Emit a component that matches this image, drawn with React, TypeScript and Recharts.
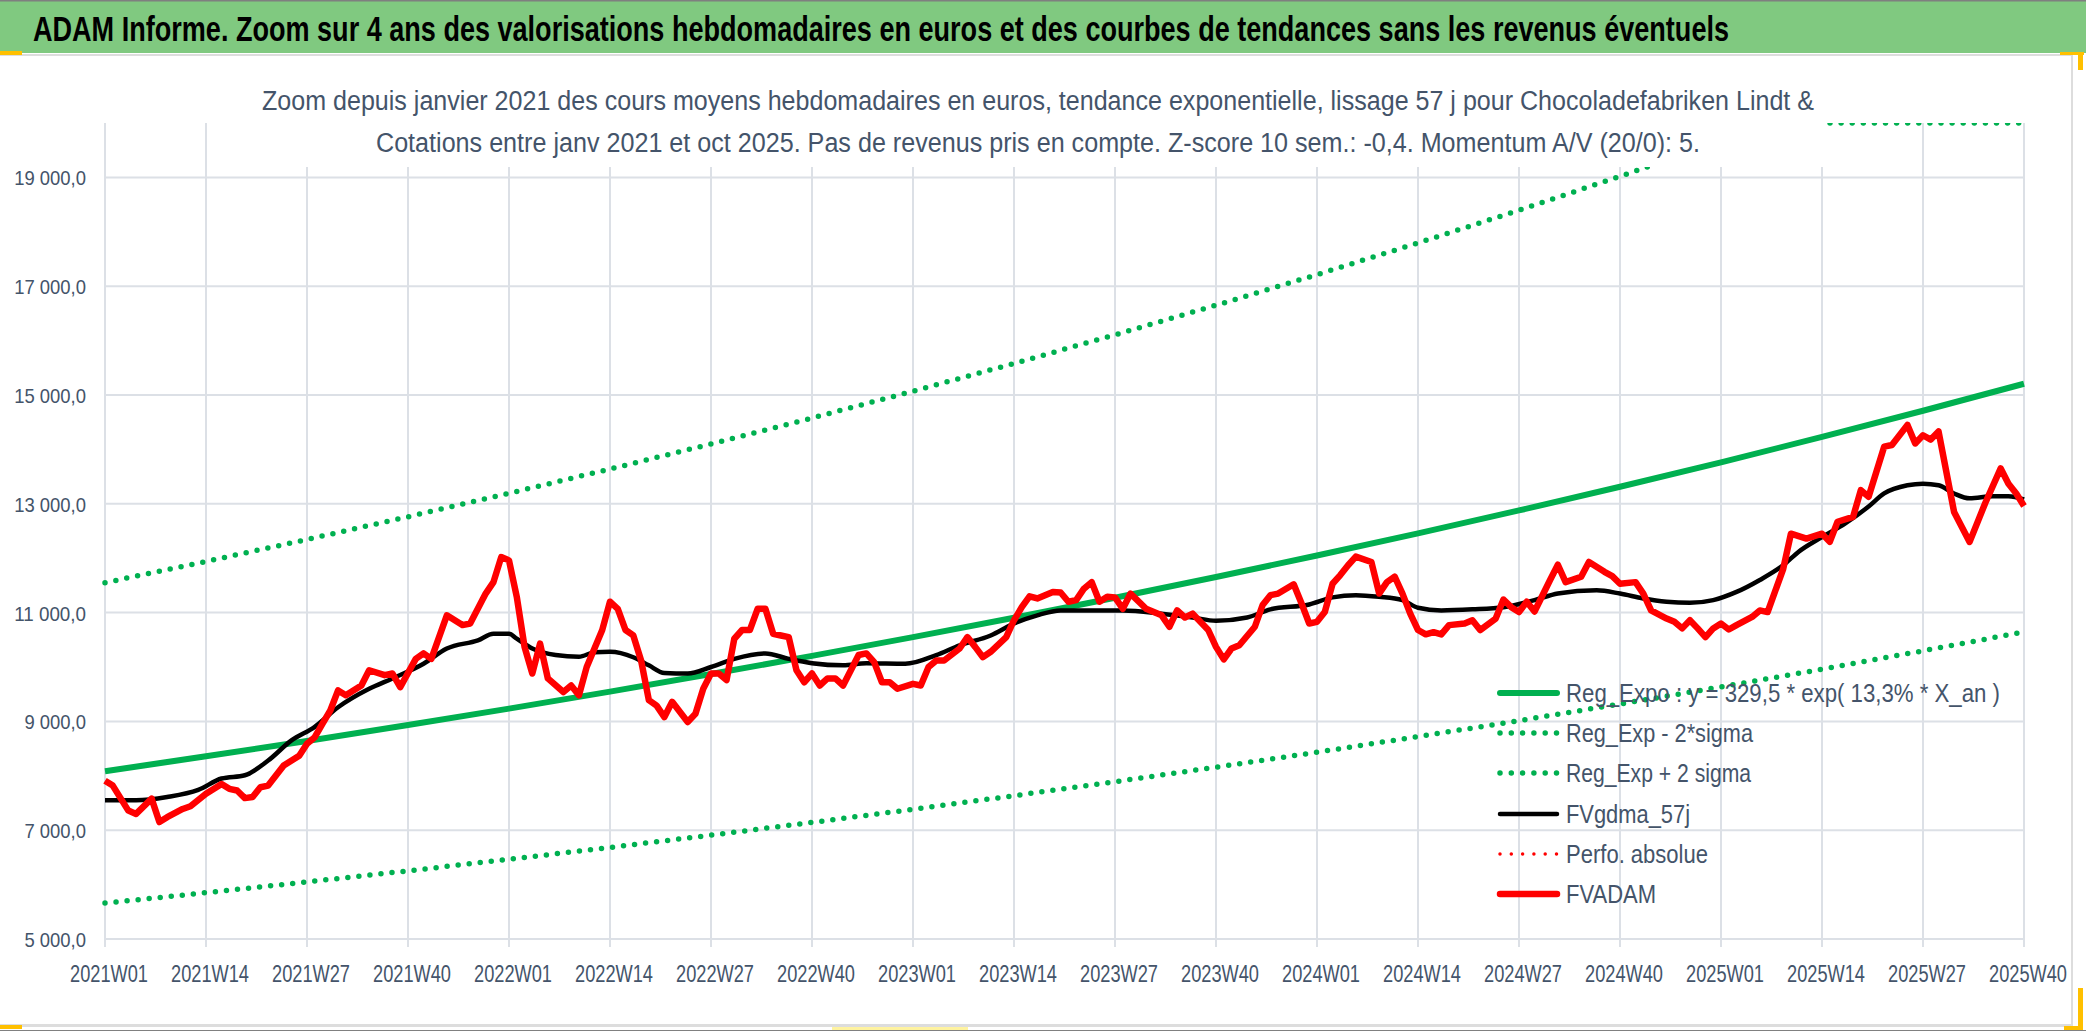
import React from 'react';
import { LineChart, Line, XAxis, YAxis, CartesianGrid } from 'recharts';

const WIDTH = 2086;
const HEIGHT = 1031;
const FONT = '"Liberation Sans Narrow", "Liberation Sans", Arial, sans-serif';
const TEXT = '#44546A';
const GREEN = '#00B050';
const RED = '#FF0000';
const GRID = '#DCE0E6';

// week labels, one every 13 weeks
const WEEK_LABELS = [
  '2021W01', '2021W14', '2021W27', '2021W40',
  '2022W01', '2022W14', '2022W27', '2022W40',
  '2023W01', '2023W14', '2023W27', '2023W40',
  '2024W01', '2024W14', '2024W27', '2024W40',
  '2025W01', '2025W14', '2025W27', '2025W40',
];
const STEP = 13;
const LAST_WEEK = 247;
const TICK_WEEKS = WEEK_LABELS.map((_, i) => i * STEP);

const Y_MIN = 5000;
const Y_MAX = 20000;
const Y_TICKS = [5000, 7000, 9000, 11000, 13000, 15000, 17000, 19000];

// trend curves, read at each labelled week
const REG_EXPO = [
  8085, 8358, 8641, 8933, 9235, 9547, 9870, 10204, 10549, 10905,
  11274, 11655, 12049, 12457, 12878, 13313, 13763, 14229, 14710, 15207,
];
const REG_MINUS = [
  5660, 5851, 6049, 6253, 6465, 6683, 6909, 7143, 7384, 7634,
  7892, 8159, 8434, 8720, 9014, 9319, 9634, 9960, 10297, 10645,
];
const REG_PLUS = [
  11550, 11940, 12344, 12761, 13193, 13639, 14100, 14577, 15070, 15579,
  16106, 16650, 17213, 17795, 18397, 19019, 19662, 20326, 21014, 21724,
];

// [week index, value]
const FVGDMA: [number, number][] = [
  [0, 7550], [4, 7550], [8, 7610], [12, 7740], [15, 7950], [18, 8010], [21, 8280], [24, 8650],
  [27, 8900], [30, 9260], [34, 9600], [37, 9790], [41, 10060], [44, 10340], [48, 10490], [50, 10610],
  [52, 10610], [53, 10520], [55, 10340], [58, 10220], [61, 10190], [63, 10270], [65, 10280], [68, 10180],
  [70, 10030], [72, 9890], [75, 9880], [78, 10000], [81, 10150], [85, 10250], [88, 10150], [91, 10070],
  [95, 10030], [98, 10070], [103, 10060], [107, 10220], [110, 10400], [114, 10580], [117, 10800], [120, 10950],
  [123, 11040], [126, 11040], [131, 11040], [136, 10980], [140, 10910], [143, 10850], [147, 10910], [150, 11060],
  [155, 11150], [158, 11280], [161, 11320], [164, 11290], [167, 11230], [169, 11090], [172, 11040], [176, 11060],
  [180, 11100], [184, 11230], [187, 11350], [192, 11410], [195, 11350], [198, 11260], [201, 11200], [204, 11180],
  [207, 11230], [210, 11380], [213, 11600], [216, 11870], [218, 12120], [221, 12390], [224, 12640], [227, 12950],
  [229, 13190], [232, 13340], [234, 13370], [236, 13340], [238, 13190], [240, 13100], [243, 13140], [245, 13140],
  [247, 13080],
];

const FVADAM: [number, number][] = [
  [0, 7910], [1, 7820], [3, 7360], [4, 7300], [6, 7580], [7, 7150], [8, 7240], [10, 7390],
  [11, 7440], [13, 7670], [15, 7850], [16, 7760], [17, 7730], [18, 7590], [19, 7610], [20, 7790],
  [21, 7820], [23, 8190], [25, 8370], [26, 8590], [27, 8710], [28, 8960], [29, 9200], [30, 9570],
  [31, 9480], [33, 9660], [34, 9940], [36, 9850], [37, 9880], [38, 9630], [40, 10150], [41, 10250],
  [42, 10150], [44, 10950], [46, 10770], [47, 10800], [49, 11350], [50, 11560], [51, 12020], [52, 11960],
  [53, 11290], [54, 10370], [55, 9880], [56, 10430], [57, 9790], [59, 9540], [60, 9660], [61, 9480],
  [62, 10000], [64, 10680], [65, 11200], [66, 11070], [67, 10680], [68, 10580], [69, 10120], [70, 9390],
  [71, 9290], [72, 9080], [73, 9360], [75, 8990], [76, 9140], [77, 9600], [78, 9880], [79, 9880],
  [80, 9760], [81, 10520], [82, 10680], [83, 10680], [84, 11070], [85, 11070], [86, 10610], [87, 10580],
  [88, 10550], [89, 9940], [90, 9720], [91, 9880], [92, 9660], [93, 9790], [94, 9790], [95, 9660],
  [97, 10220], [98, 10250], [99, 10090], [100, 9720], [101, 9720], [102, 9600], [104, 9690], [105, 9660],
  [106, 10000], [107, 10120], [108, 10120], [110, 10340], [111, 10550], [112, 10370], [113, 10180], [114, 10280],
  [116, 10550], [117, 10860], [118, 11100], [119, 11300], [120, 11260], [122, 11380], [123, 11370], [124, 11200],
  [125, 11230], [126, 11440], [127, 11560], [128, 11200], [129, 11290], [130, 11280], [131, 11070], [132, 11350],
  [134, 11070], [136, 10950], [137, 10740], [138, 11040], [139, 10910], [140, 10980], [142, 10680], [143, 10370],
  [144, 10140], [145, 10340], [146, 10400], [148, 10740], [149, 11140], [150, 11320], [151, 11350], [153, 11520],
  [154, 11170], [155, 10800], [156, 10830], [157, 11010], [158, 11530], [159, 11690], [160, 11870], [161, 12030],
  [163, 11930], [164, 11350], [165, 11560], [166, 11660], [167, 11350], [168, 10980], [169, 10680], [170, 10600],
  [171, 10640], [172, 10600], [173, 10770], [175, 10800], [176, 10860], [177, 10680], [179, 10890], [180, 11240],
  [181, 11100], [182, 11010], [183, 11200], [184, 11020], [186, 11600], [187, 11880], [188, 11560], [190, 11660],
  [191, 11930], [193, 11750], [194, 11670], [195, 11530], [197, 11560], [198, 11350], [199, 11040], [201, 10890],
  [202, 10830], [203, 10710], [204, 10860], [205, 10710], [206, 10550], [207, 10710], [208, 10800], [209, 10690],
  [210, 10770], [212, 10920], [213, 11040], [214, 11010], [216, 11800], [217, 12450], [219, 12360], [221, 12450],
  [222, 12300], [223, 12670], [225, 12760], [226, 13250], [227, 13130], [229, 14050], [230, 14080], [232, 14450],
  [233, 14110], [234, 14260], [235, 14180], [236, 14330], [238, 12850], [240, 12300], [242, 13010], [244, 13650],
  [245, 13370], [246, 13190], [247, 12960],
];

const TITLE = 'ADAM Informe. Zoom sur 4 ans des valorisations hebdomadaires en euros et des courbes de tendances sans les revenus éventuels';
const SUBTITLE = [
  'Zoom depuis janvier 2021 des cours moyens hebdomadaires en euros, tendance exponentielle, lissage 57 j pour Chocoladefabriken Lindt &',
  'Cotations entre janv 2021 et oct 2025. Pas de revenus pris en compte. Z-score 10 sem.: -0,4. Momentum A/V (20/0): 5.',
];

const LEGEND = [
  { label: 'Reg_Expo : y = 329,5 * exp( 13,3% *  X_an )', color: GREEN, dotted: false, width: 6, len: 434 },
  { label: 'Reg_Exp - 2*sigma', color: GREEN, dotted: true, width: 5.5, len: 187 },
  { label: 'Reg_Exp + 2 sigma', color: GREEN, dotted: true, width: 5.5, len: 185 },
  { label: 'FVgdma_57j', color: '#000000', dotted: false, width: 4.5, len: 124 },
  { label: 'Perfo. absolue', color: RED, dotted: true, width: 3.5, len: 142 },
  { label: 'FVADAM', color: RED, dotted: false, width: 6.5, len: 90 },
];

// Excel pins values above the axis max on the top edge
const trend = (vals: number[]) => vals.map((v, i) => ({ w: i * STEP, v: Math.min(v, Y_MAX) }));
const pairs = (vals: [number, number][]) => vals.map(([w, v]) => ({ w, v }));

const formatY = (v: number) => {
  const th = Math.floor(v / 1000);
  const rest = String(v % 1000).padStart(3, '0');
  return `${th} ${rest},0`;
};

// grid lines only at the axis ticks, no frame line at the plot top
const gridRows = ({ offset }: any) =>
  Y_TICKS.map((v) => offset.top + (offset.height * (Y_MAX - v)) / (Y_MAX - Y_MIN));

const XTick = (props: any) => {
  const { x, y, payload } = props;
  const label = WEEK_LABELS[Math.round(payload.value / STEP)];
  return (
    <text x={x + 4} y={y + 33} textAnchor="middle" fontFamily={FONT} fontSize={23} fill={TEXT}
      textLength={78} lengthAdjust="spacingAndGlyphs">{label}</text>
  );
};

const YTick = (props: any) => {
  const { y, payload } = props;
  const label = formatY(payload.value);
  const digits = label.replace(/[^0-9]/g, '').length;
  return (
    <text x={86} y={y + 8} textAnchor="end" fontFamily={FONT} fontSize={21} fill={TEXT}
      textLength={digits * 10.3 + 10} lengthAdjust="spacingAndGlyphs">{label}</text>
  );
};

const Overlay = () => {
  const rowY = [693, 733, 773, 814, 854, 894];
  const titleScale = 0.86;
  return (
    <svg width={WIDTH} height={HEIGHT} style={{ position: 'absolute', left: 0, top: 0, pointerEvents: 'none' }}>
      {/* title bar */}
      <rect x={0} y={0} width={WIDTH} height={53} fill="#80C980" />
      <rect x={0} y={0} width={WIDTH} height={1.5} fill="#7F7F7F" />
      <text transform={`translate(33 41) scale(${titleScale} 1)`} fontFamily={FONT} fontWeight="bold"
        fontSize={35} fill="#000" textLength={1696 / titleScale} lengthAdjust="spacingAndGlyphs">{TITLE}</text>
      {/* chart frame */}
      <rect x={0} y={54} width={2073} height={2} fill="#DDDDDD" />
      <rect x={2071} y={54} width={2} height={972} fill="#DDDDDD" />
      <rect x={0} y={1024} width={2073} height={3} fill="#DDDDDD" />
      <rect x={0} y={1030} width={WIDTH} height={1} fill="#808080" />
      <rect x={0} y={51} width={22} height={4} fill="#FFC000" />
      <rect x={2060} y={52} width={24} height={3} fill="#FFC000" />
      <rect x={2078} y={52} width={5} height={18} fill="#FFC000" />
      <rect x={2078} y={988} width={5} height={42} fill="#FFC000" />
      <rect x={2064} y={1026} width={19} height={4} fill="#FFC000" />
      <rect x={0} y={1025} width={22} height={4} fill="#FFC000" />
      <rect x={832} y={1027} width={136} height={3} fill="#FFF3A0" />
      {/* chart title box */}
      <rect x={255} y={60} width={1571} height={107} fill="#FFFFFF" />
      <text x={1038} y={110} textAnchor="middle" fontFamily={FONT} fontSize={27} fill={TEXT}
        textLength={1552} lengthAdjust="spacingAndGlyphs">{SUBTITLE[0]}</text>
      <text x={1038} y={152} textAnchor="middle" fontFamily={FONT} fontSize={27} fill={TEXT}
        textLength={1324} lengthAdjust="spacingAndGlyphs">{SUBTITLE[1]}</text>
      {/* legend */}
      {LEGEND.map((item, i) => (
        <g key={item.label}>
          <line x1={1500} x2={1557} y1={rowY[i]} y2={rowY[i]} stroke={item.color}
            strokeWidth={item.width} strokeLinecap="round"
            strokeDasharray={item.dotted ? '0 11.3' : undefined} />
          <text x={1566} y={rowY[i] + 9} fontFamily={FONT} fontSize={25} fill={TEXT}
            textLength={item.len} lengthAdjust="spacingAndGlyphs">{item.label}</text>
        </g>
      ))}
    </svg>
  );
};

export default function App() {
  return (
    <div style={{ position: 'absolute', left: 0, top: 0, width: WIDTH, height: HEIGHT, background: '#fff' }}>
      <LineChart width={WIDTH} height={HEIGHT} margin={{ top: 123, right: 62, bottom: 42, left: 15 }}>
        <CartesianGrid stroke={GRID} strokeWidth={2} syncWithTicks horizontalCoordinatesGenerator={gridRows} />
        <XAxis type="number" dataKey="w" domain={[0, LAST_WEEK]} ticks={TICK_WEEKS} height={50}
          axisLine={{ stroke: GRID, strokeWidth: 2 }} tickLine={{ stroke: GRID, strokeWidth: 2 }}
          tickSize={8} tick={<XTick />} interval={0} />
        <YAxis type="number" domain={[Y_MIN, Y_MAX]} ticks={Y_TICKS} width={90}
          axisLine={false} tickLine={false} tick={<YTick />} interval={0} allowDataOverflow />
        <Line data={trend(REG_EXPO)} dataKey="v" stroke={GREEN} strokeWidth={6} dot={false}
          type="linear" isAnimationActive={false} />
        <Line data={trend(REG_MINUS)} dataKey="v" stroke={GREEN} strokeWidth={5.5} dot={false}
          strokeDasharray="0 11.1" strokeLinecap="round" type="linear" isAnimationActive={false} />
        <Line data={trend(REG_PLUS)} dataKey="v" stroke={GREEN} strokeWidth={5.5} dot={false}
          strokeDasharray="0 11.1" strokeLinecap="round" type="linear" isAnimationActive={false} />
        <Line data={pairs(FVGDMA)} dataKey="v" stroke="#000000" strokeWidth={4.5} dot={false}
          type="monotone" isAnimationActive={false} />
        <Line data={pairs(FVADAM)} dataKey="v" stroke={RED} strokeWidth={6.5} dot={false}
          strokeLinejoin="round" type="linear" isAnimationActive={false} />
      </LineChart>
      <Overlay />
    </div>
  );
}
